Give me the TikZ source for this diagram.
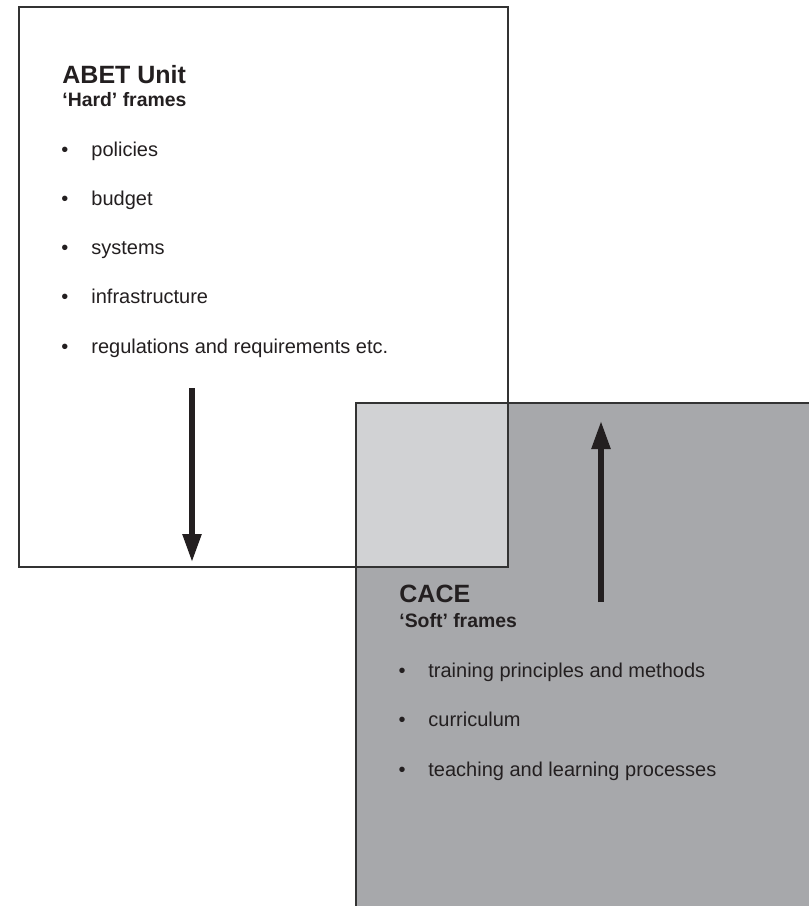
\documentclass[tikz,border=0pt]{standalone}
\usepackage{fontspec}
\setmainfont{Liberation Sans}
\usetikzlibrary{arrows.meta}

\definecolor{bordo}{HTML}{333333}
\definecolor{scuro}{HTML}{A7A8AB}
\definecolor{chiaro}{HTML}{D1D2D4}
\definecolor{inchiostro}{HTML}{231F20}

\begin{document}
\begin{tikzpicture}[x=0.5pt,y=-0.5pt,
  titolo/.style={anchor=base west,inner sep=0pt,text=inchiostro,font=\fontsize{12.5}{14}\selectfont\bfseries},
  sottotitolo/.style={anchor=base west,inner sep=0pt,text=inchiostro,font=\fontsize{9.7}{12}\selectfont\bfseries},
  voce/.style={anchor=base west,inner sep=0pt,text=inchiostro,font=\fontsize{10}{12}\selectfont},
  puntino/.style={anchor=base,inner sep=0pt,text=inchiostro,font=\fontsize{10}{12}\selectfont},
  freccia/.style={-{Triangle[length=14pt,width=9pt]},line width=2.7pt,draw=inchiostro}]
% Definisci le variabili
\def\passo{49.25}  % Distanza tra le voci
\useasboundingbox (0,0) rectangle (809,906);

% Angoli dei due riquadri
\coordinate (abetNO) at (19,7);
\coordinate (abetSE) at (508,567);
\coordinate (caceNO) at (356,403);
\coordinate (caceSE) at (809,906);

% Riquadro ABET (bianco) e riquadro CACE (grigio)
\fill[white] (abetNO) rectangle (abetSE);
\fill[scuro] (caceNO) rectangle (caceSE);
\fill[chiaro] (caceNO) rectangle (abetSE);
\draw[bordo,line width=1pt] (abetNO) rectangle (abetSE);
\draw[bordo,line width=1pt] (caceSE |- caceNO) -- (caceNO) -- (caceNO |- caceSE);

% Testi del riquadro ABET
\node[titolo] (abet) at (62,83) {ABET Unit};
\node[sottotitolo] (hard) at (62,106) {‘Hard’ frames};
\foreach \testo [count=\i] in {policies,budget,systems,infrastructure,regulations and requirements etc.} {
    \node[puntino] (pa\i) at (65,{156+\passo*(\i-1)}) {\textbullet};
    \node[voce] (va\i) at (91,{156+\passo*(\i-1)}) {\testo};
}

% Testi del riquadro CACE
\node[titolo] (cace) at (399,602) {CACE};
\node[sottotitolo] (soft) at (399,627) {‘Soft’ frames};
\foreach \testo [count=\i] in {training principles and methods,curriculum,teaching and learning processes} {
    \node[puntino] (pc\i) at (402,{677+49.5*(\i-1)}) {\textbullet};
    \node[voce] (vc\i) at (428,{677+49.5*(\i-1)}) {\testo};
}

% Frecce
\coordinate (giuA) at (192,388);
\coordinate (giuB) at (192,562);
\coordinate (suA) at (601,602);
\coordinate (suB) at (601,421);
\draw[freccia] (giuA) -- (giuB);
\draw[freccia] (suA) -- (suB);

\end{tikzpicture}
\end{document}
